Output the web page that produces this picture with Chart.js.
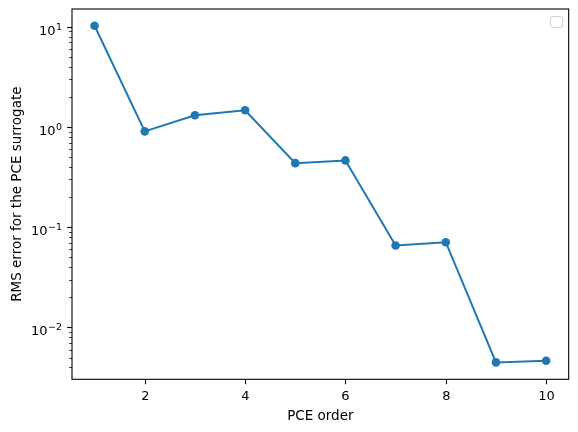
<!DOCTYPE html>
<html>
<head>
<meta charset="utf-8">
<script src="https://cdn.jsdelivr.net/npm/chart.js@4"></script>
<style>
  html, body { margin: 0; padding: 0; background: #fff; }
  #wrap { width: 578px; height: 432px; }
</style>
</head>
<body>
<div id="wrap"><canvas id="cv" width="578" height="432"></canvas></div>
<script>
// ===== Data =====
const orders = [1, 2, 3, 4, 5, 6, 7, 8, 9, 10];
const rmsError = [10.25, 0.905, 1.31, 1.47, 0.436, 0.464, 0.0656, 0.0708, 0.00447, 0.00464];

// ===== Axis ticks / labels =====
const xTickValues = [2, 4, 6, 8, 10];
const yMajorTicks = [0.01, 0.1, 1, 10];
const yExponents = ["\u22122", "\u22121", "0", "1"];
const X_LABEL = "PCE order";
const Y_LABEL = "RMS error for the PCE surrogate";

const FONT = "DejaVu Sans";
const BLUE = "#1f77b4";

// matplotlib-ish spines, ticks and labels
const mplAxes = {
  id: "mplAxes",
  afterDraw(chart) {
    const { ctx, chartArea: a, scales } = chart;
    const xs = scales.x, ys = scales.y;
    ctx.save();
    ctx.strokeStyle = "#000";
    ctx.fillStyle = "#000";

    // spines
    ctx.lineWidth = 1.1;
    ctx.strokeRect(a.left, a.top, a.right - a.left, a.bottom - a.top);

    // x ticks + labels
    ctx.font = `13px "${FONT}"`;
    ctx.textAlign = "center";
    ctx.textBaseline = "alphabetic";
    xTickValues.forEach(v => {
      const px = Math.round(xs.getPixelForValue(v)) + 0.5;
      ctx.beginPath();
      ctx.moveTo(px, a.bottom);
      ctx.lineTo(px, a.bottom + 4.9);
      ctx.stroke();
      ctx.fillText(String(v), px, a.bottom + 21);
    });

    // y minor ticks
    ctx.lineWidth = 0.8;
    for (let e = -3; e <= 1; e++) {
      for (let m = 2; m <= 9; m++) {
        const v = m * Math.pow(10, e);
        if (v < ys.min || v > ys.max) continue;
        const py = Math.round(ys.getPixelForValue(v)) + 0.5;
        ctx.beginPath();
        ctx.moveTo(a.left, py);
        ctx.lineTo(a.left - 2.8, py);
        ctx.stroke();
      }
    }

    // y major ticks + labels 10^n
    ctx.lineWidth = 1.1;
    yMajorTicks.forEach((v, i) => {
      const py = Math.round(ys.getPixelForValue(v)) + 0.5;
      ctx.beginPath();
      ctx.moveTo(a.left, py);
      ctx.lineTo(a.left - 4.9, py);
      ctx.stroke();

      const right = a.left - 10;
      ctx.textAlign = "left";
      ctx.font = `9.5px "${FONT}"`;
      const ew = ctx.measureText(yExponents[i]).width;
      ctx.font = `13px "${FONT}"`;
      const bw = ctx.measureText("10").width;
      const x0 = right - ew - bw - 0.5;
      ctx.fillText("10", x0, py + 7);
      ctx.font = `9.5px "${FONT}"`;
      ctx.fillText(yExponents[i], x0 + bw + 0.5, py + 2.5);
    });

    // axis titles
    ctx.font = `13.5px "${FONT}"`;
    ctx.textAlign = "center";
    ctx.fillText(X_LABEL, (a.left + a.right) / 2, 419.5);
    ctx.save();
    ctx.translate(21, (a.top + a.bottom) / 2);
    ctx.rotate(-Math.PI / 2);
    ctx.fillText(Y_LABEL, 0, 0);
    ctx.restore();

    // empty legend frame (no labelled artists)
    ctx.strokeStyle = "#d0d0d0";
    ctx.lineWidth = 1;
    ctx.beginPath();
    ctx.roundRect(550.5, 16.5, 12, 11, 2.5);
    ctx.stroke();

    ctx.restore();
  }
};

const chart = new Chart(document.getElementById("cv").getContext("2d"), {
  type: "line",
  data: {
    datasets: [{
      data: orders.map((o, i) => ({ x: o, y: rmsError[i] })),
      borderColor: BLUE,
      backgroundColor: BLUE,
      borderWidth: 2,
      pointRadius: 4.3,
      pointBorderWidth: 0,
      pointBackgroundColor: BLUE,
      tension: 0
    }]
  },
  options: {
    responsive: false,
    animation: false,
    devicePixelRatio: 1,
    layout: { padding: { top: 9, right: 9.3, left: 0, bottom: 0 } },
    plugins: { legend: { display: false }, tooltip: { enabled: false } },
    scales: {
      x: {
        type: "linear",
        min: 0.55, max: 10.45,
        grid: { display: false, drawTicks: false },
        border: { display: false },
        ticks: { display: false },
        afterFit: s => { s.height = 52.7; }
      },
      y: {
        type: "logarithmic",
        min: 0.00303, max: 15.07,
        grid: { display: false, drawTicks: false },
        border: { display: false },
        ticks: { display: false },
        afterFit: s => { s.width = 72; }
      }
    }
  },
  plugins: [mplAxes]
});
</script>
</body>
</html>
